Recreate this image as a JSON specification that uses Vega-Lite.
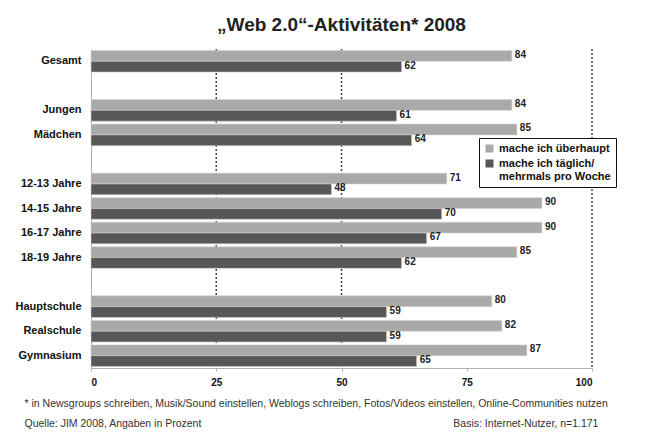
{
  "$schema": "https://vega.github.io/schema/vega-lite/v6.json",
  "width": 501,
  "height": 319,
  "autosize": {"type": "none"},
  "padding": {"left": 91, "top": 49, "right": 54, "bottom": 64},
  "background": "white",
  "title": {
    "text": "„Web 2.0“-Aktivitäten* 2008",
    "anchor": "middle",
    "fontSize": 19,
    "fontWeight": "bold",
    "font": "Liberation Sans",
    "color": "#222222",
    "offset": 13
  },
  "config": {
    "font": "Liberation Sans",
    "view": {"stroke": null},
    "axis": {"domainColor": "#b0b0b0", "tickColor": "#b0b0b0", "grid": false}
  },
  "datasets": {
    "bars": [
      {"group": "Gesamt", "series": "mache ich überhaupt", "value": 84},
      {"group": "Gesamt", "series": "mache ich täglich/mehrmals pro Woche", "value": 62},
      {"group": "Jungen", "series": "mache ich überhaupt", "value": 84},
      {"group": "Jungen", "series": "mache ich täglich/mehrmals pro Woche", "value": 61},
      {"group": "Mädchen", "series": "mache ich überhaupt", "value": 85},
      {"group": "Mädchen", "series": "mache ich täglich/mehrmals pro Woche", "value": 64},
      {"group": "12-13 Jahre", "series": "mache ich überhaupt", "value": 71},
      {"group": "12-13 Jahre", "series": "mache ich täglich/mehrmals pro Woche", "value": 48},
      {"group": "14-15 Jahre", "series": "mache ich überhaupt", "value": 90},
      {"group": "14-15 Jahre", "series": "mache ich täglich/mehrmals pro Woche", "value": 70},
      {"group": "16-17 Jahre", "series": "mache ich überhaupt", "value": 90},
      {"group": "16-17 Jahre", "series": "mache ich täglich/mehrmals pro Woche", "value": 67},
      {"group": "18-19 Jahre", "series": "mache ich überhaupt", "value": 85},
      {"group": "18-19 Jahre", "series": "mache ich täglich/mehrmals pro Woche", "value": 62},
      {"group": "Hauptschule", "series": "mache ich überhaupt", "value": 80},
      {"group": "Hauptschule", "series": "mache ich täglich/mehrmals pro Woche", "value": 59},
      {"group": "Realschule", "series": "mache ich überhaupt", "value": 82},
      {"group": "Realschule", "series": "mache ich täglich/mehrmals pro Woche", "value": 59},
      {"group": "Gymnasium", "series": "mache ich überhaupt", "value": 87},
      {"group": "Gymnasium", "series": "mache ich täglich/mehrmals pro Woche", "value": 65}
    ],
    "gridlines": [{"pos": 25}, {"pos": 50}, {"pos": 100}]
  },
  "layer": [
    {
      "data": {"name": "gridlines"},
      "mark": {"type": "rule", "color": "#444444", "strokeWidth": 1.5, "strokeDash": [2, 2]},
      "encoding": {
        "x": {"field": "pos", "type": "quantitative", "scale": {"domain": [0, 100], "nice": false}}
      }
    },
    {
      "data": {"name": "bars"},
      "mark": {"type": "bar", "stroke": "#d0d0d0", "strokeWidth": 0.6},
      "encoding": {
        "y": {
          "field": "group",
          "type": "nominal",
          "scale": {
            "domain": ["Gesamt", "gap1", "Jungen", "Mädchen", "gap2", "12-13 Jahre", "14-15 Jahre", "16-17 Jahre", "18-19 Jahre", "gap3", "Hauptschule", "Realschule", "Gymnasium"],
            "paddingInner": 0.12,
            "paddingOuter": 0.06
          },
          "axis": {
            "title": null,
            "labelExpr": "indexof(datum.value, 'gap') == 0 ? '' : datum.label",
            "labelFontSize": 11,
            "labelFontWeight": "bold",
            "labelColor": "#111111",
            "labelPadding": 10,
            "ticks": false
          }
        },
        "yOffset": {
          "field": "series",
          "type": "nominal",
          "scale": {"domain": ["mache ich überhaupt", "mache ich täglich/mehrmals pro Woche"], "paddingInner": 0, "paddingOuter": 0}
        },
        "x": {
          "field": "value",
          "type": "quantitative",
          "scale": {"domain": [0, 100], "nice": false},
          "axis": {
            "values": [0, 25, 50, 75, 100],
            "labelFontSize": 10,
            "labelFontWeight": "bold",
            "labelColor": "#111111",
            "labelPadding": 6,
            "tickSize": 3,
            "title": ["* in Newsgroups schreiben, Musik/Sound einstellen, Weblogs schreiben, Fotos/Videos einstellen, Online-Communities nutzen", "Quelle: JIM 2008, Angaben in Prozent\u2003\u2003\u2003\u2003\u2003\u2003\u2003\u2003\u2003\u2003\u2003\u2003\u2003\u2003\u2003\u2003\u2003\u2003\u2003\u2003\u2003\u2003\u2003\u2003Basis: Internet-Nutzer, n=1.171"],
            "titleX": -67,
            "titleY": 30,
            "titleAlign": "left",
            "titleAnchor": "start",
            "titleBaseline": "top",
            "titleLineHeight": 20,
            "titleFontSize": 10.5,
            "titleFontWeight": "normal",
            "titleColor": "#333333"
          }
        },
        "color": {
          "field": "series",
          "type": "nominal",
          "scale": {"domain": ["mache ich überhaupt", "mache ich täglich/mehrmals pro Woche"], "range": ["#a9a9aa", "#575757"]},
          "legend": {
            "title": null,
            "orient": "none",
            "legendX": 388,
            "legendY": 89,
            "strokeColor": "#111111",
            "fillColor": "white",
            "padding": 5,
            "symbolType": "square",
            "symbolSize": 64,
            "symbolStrokeWidth": 0,
            "labelFontSize": 11,
            "labelFontWeight": "bold",
            "labelColor": "#111111",
            "labelLimit": 200,
            "rowPadding": 3,
            "labelExpr": "datum.value == 'mache ich täglich/mehrmals pro Woche' ? ['mache ich täglich/', 'mehrmals pro Woche'] : datum.label"
          }
        }
      }
    },
    {
      "data": {"name": "bars"},
      "mark": {"type": "text", "align": "left", "baseline": "middle", "dx": 3, "dy": -1, "fontSize": 10, "fontWeight": "bold", "color": "#222222"},
      "encoding": {
        "y": {"field": "group", "type": "nominal"},
        "yOffset": {"field": "series", "type": "nominal"},
        "x": {"field": "value", "type": "quantitative"},
        "text": {"field": "value", "type": "quantitative"}
      }
    }
  ]
}
